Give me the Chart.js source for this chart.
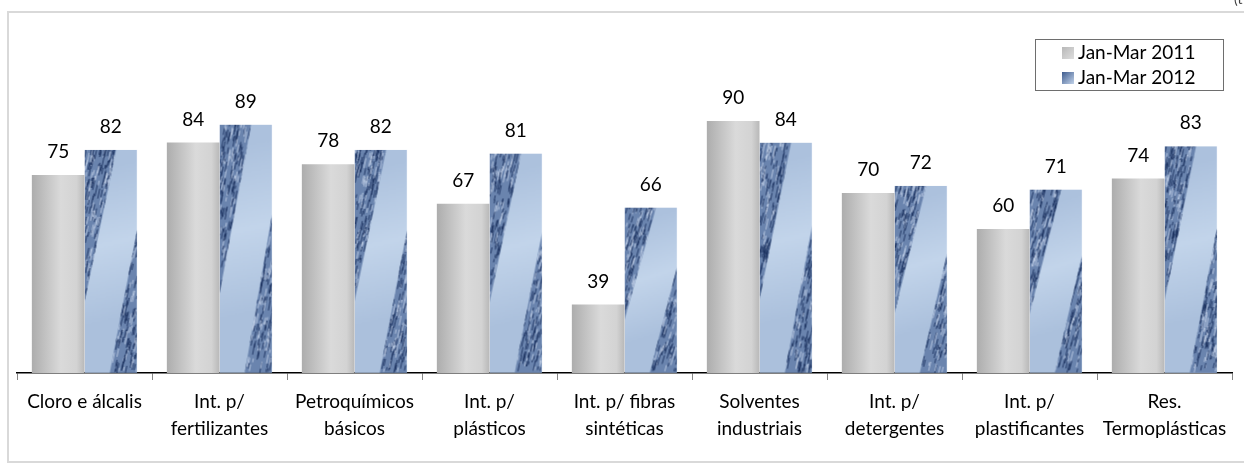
<!DOCTYPE html>
<html>
<head>
<meta charset="utf-8">
<script src="https://cdn.jsdelivr.net/npm/chart.js@4/dist/chart.umd.min.js"></script>
<style>
  html, body { margin: 0; padding: 0; background: #fff; }
  #wrap { position: relative; width: 1244px; height: 463px; overflow: hidden; }
  #frame {
    position: absolute; left: 7px; top: 11px; width: 1260px; height: 452px;
    box-sizing: border-box; border: 2px solid #d9d9d9; pointer-events: none;
  }
  #corner {
    position: absolute; left: 1234px; top: -10px; font: 14px Lato, sans-serif; color: #404040;
  }
  canvas { position: absolute; left: 0; top: 0; }
</style>
</head>
<body>
<div id="wrap">
  <canvas id="prod-chart" width="1244" height="463"></canvas>
  <div id="frame"></div>
  <div id="corner">(t</div>
</div>
<script>
(function() {
	'use strict';

	var categories = [
		'Cloro e álcalis',
		['Int. p/', 'fertilizantes'],
		['Petroquímicos', 'básicos'],
		['Int. p/', 'plásticos'],
		['Int. p/ fibras', 'sintéticas'],
		['Solventes', 'industriais'],
		['Int. p/', 'detergentes'],
		['Int. p/', 'plastificantes'],
		['Res.', 'Termoplásticas']
	];
	var series2011 = [75, 84, 78, 67, 39, 90, 70, 60, 74];
	var series2012 = [82, 89, 82, 81, 66, 84, 72, 71, 83];
	var seriesNames = ['Jan-Mar 2011', 'Jan-Mar 2012'];

	var FONT = 'Lato, "Open Sans", sans-serif';
	var CAT_PCT = 0.78;

	// cheap deterministic hash for the fabric-like texture
	function hash(n) {
		var s = Math.sin(n * 127.1 + 311.7) * 43758.5453;
		return s - Math.floor(s);
	}

	// pixel box of a bar, taken from the laid-out scales
	function barBox(chart, dsIndex, i, v) {
		var xs = chart.scales.x, ys = chart.scales.y;
		var catW = xs.width / categories.length;
		var barW = catW * CAT_PCT / 2;
		var center = xs.getPixelForValue(i);
		var left = dsIndex === 0 ? center - barW : center;
		var top = ys.getPixelForValue(v);
		return { left: left, top: top, w: barW, h: ys.bottom - top };
	}

	function grayFill(context) {
		var chart = context.chart;
		if (!chart.chartArea) return '#c8c8c8';
		var b = barBox(chart, 0, context.dataIndex, context.raw);
		var g = chart.ctx.createLinearGradient(b.left, 0, b.left + b.w, 0);
		g.addColorStop(0, '#adadad');
		g.addColorStop(0.55, '#dadada');
		g.addColorStop(0.85, '#d3d3d3');
		g.addColorStop(1, '#b8b8b8');
		return g;
	}

	function streaks(g, poly, w, h, seed, count) {
		g.save();
		g.beginPath();
		g.moveTo(poly[0][0] * w, poly[0][1] * h);
		for (var k = 1; k < poly.length; k++) g.lineTo(poly[k][0] * w, poly[k][1] * h);
		g.closePath();
		g.clip();
		g.fillStyle = '#6a84ae';
		g.fillRect(0, 0, w, h);
		// direction of the stripes ("/")
		var dx = 0.6 * w, dy = -0.68 * h;
		var len = Math.sqrt(dx * dx + dy * dy);
		dx /= len; dy /= len;
		g.lineWidth = 1;
		for (var n = 0; n < count; n++) {
			var x = hash(seed + n * 3.1) * w;
			var y = hash(seed + n * 7.7 + 1.3) * h;
			var l = 3 + hash(seed + n * 5.3) * 9;
			var r = hash(seed + n * 2.9);
			g.strokeStyle = r < 0.6 ? 'rgba(28,50,95,0.9)' : 'rgba(196,210,232,0.8)';
			g.beginPath();
			g.moveTo(x, y);
			g.lineTo(x + dx * l, y + dy * l);
			g.stroke();
		}
		g.restore();
	}

	var textures = {};
	function blueTexture(w, h, i) {
		var key = i + ':' + Math.round(w) + 'x' + Math.round(h);
		if (textures[key]) return textures[key];
		var c = document.createElement('canvas');
		c.width = Math.max(1, Math.ceil(w));
		c.height = Math.max(1, Math.ceil(h));
		var g = c.getContext('2d');
		// light band, shaded across its width
		var lg = g.createLinearGradient(0.1 * w, 0.1 * h, 0.75 * w, 0.75 * h);
		lg.addColorStop(0, '#acc1dd');
		lg.addColorStop(0.5, '#c2d4ea');
		lg.addColorStop(1, '#abc0dc');
		g.fillStyle = lg;
		g.fillRect(0, 0, w, h);
		var density = Math.round(w * h / 16);
		streaks(g, [[0, 0], [0.6, 0], [0, 0.68]], w, h, i * 1000 + 11, density);
		streaks(g, [[1, 0.36], [1, 1], [0.48, 1]], w, h, i * 1000 + 537, density);
		textures[key] = c;
		return c;
	}

	function blueFill(context) {
		var chart = context.chart;
		if (!chart.chartArea) return '#a9bedb';
		var b = barBox(chart, 1, context.dataIndex, context.raw);
		var tex = blueTexture(b.w, b.h, context.dataIndex);
		var p = chart.ctx.createPattern(tex, 'no-repeat');
		p.setTransform(new DOMMatrix().translate(b.left, b.top));
		return p;
	}

	// value labels above each bar
	var valueLabels = {
		id: 'valueLabels',
		afterDatasetsDraw: function(chart) {
			var ctx = chart.ctx;
			ctx.save();
			ctx.font = '19px ' + FONT;
			ctx.fillStyle = '#000';
			ctx.textAlign = 'center';
			ctx.textBaseline = 'middle';
			chart.data.datasets.forEach(function(ds, di) {
				chart.getDatasetMeta(di).data.forEach(function(bar, i) {
					ctx.fillText(String(ds.data[i]), bar.x, bar.y - 23);
				});
			});
			ctx.restore();
		}
	};

	// boxed legend in the upper right corner of the plot
	var boxedLegend = {
		id: 'boxedLegend',
		afterDraw: function(chart) {
			var ctx = chart.ctx;
			var x0 = 1035, y0 = 39, bw = 188, bh = 51;
			ctx.save();
			ctx.strokeStyle = '#6e6e6e';
			ctx.lineWidth = 1;
			ctx.strokeRect(x0 + 0.5, y0 + 0.5, bw, bh);
			ctx.font = '19px ' + FONT;
			ctx.fillStyle = '#000';
			ctx.textBaseline = 'middle';
			chart.data.datasets.forEach(function(ds, di) {
				var sy = y0 + 8 + di * 25;
				var sg = ctx.createLinearGradient(1062, sy, 1074, sy + 12);
				if (di === 0) {
					sg.addColorStop(0, '#b8b8b8');
					sg.addColorStop(1, '#dedede');
				} else {
					sg.addColorStop(0, '#3f5c8e');
					sg.addColorStop(1, '#c2d3ea');
				}
				ctx.fillStyle = sg;
				ctx.fillRect(1062, sy, 12, 12);
				ctx.fillStyle = '#000';
				ctx.fillText(ds.label, 1078, sy + 6);
			});
			ctx.restore();
		}
	};

	var canvas = document.getElementById('prod-chart');
	new Chart(canvas.getContext('2d'), {
		type: 'bar',
		data: {
			labels: categories,
			datasets: [{
				label: seriesNames[0],
				data: series2011,
				backgroundColor: grayFill,
				borderWidth: 0
			}, {
				label: seriesNames[1],
				data: series2012,
				backgroundColor: blueFill,
				borderWidth: 0
			}]
		},
		options: {
			responsive: false,
			animation: false,
			events: [],
			categoryPercentage: CAT_PCT,
			barPercentage: 1,
			layout: {
				padding: { left: 17, right: 12, top: 85, bottom: 0 }
			},
			plugins: {
				legend: { display: false },
				tooltip: { enabled: false }
			},
			scales: {
				x: {
					afterFit: function(scale) { scale.height = 90; },
					grid: {
						offset: true,
						drawOnChartArea: false,
						drawTicks: true,
						tickLength: 7,
						color: '#868686'
					},
					border: { display: true, color: '#000', width: 1.5 },
					ticks: {
						autoSkip: false,
						maxRotation: 0,
						padding: 9,
						color: '#000',
						font: { family: FONT, size: 19, lineHeight: 1.4 }
					}
				},
				y: {
					display: false,
					min: 20,
					max: 100
				}
			}
		},
		plugins: [valueLabels, boxedLegend]
	});
})();
</script>
</body>
</html>
